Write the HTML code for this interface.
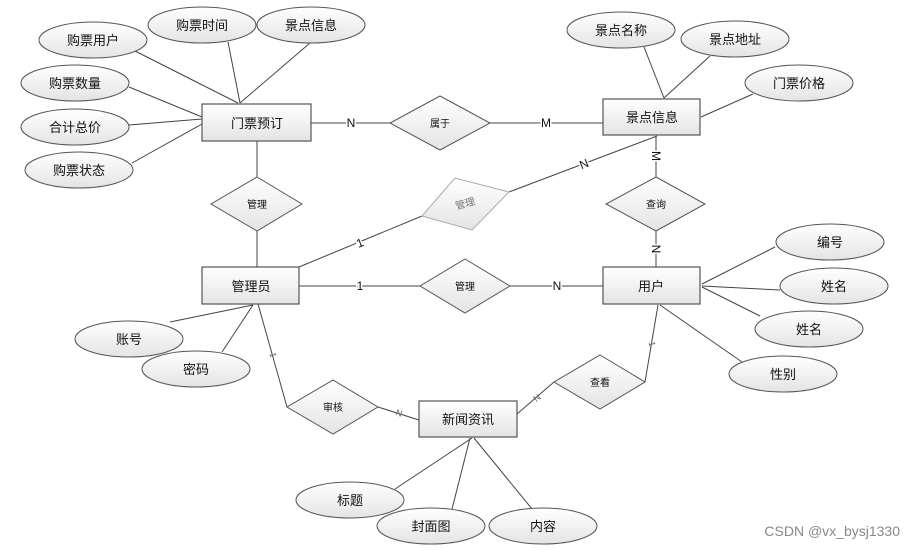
<!DOCTYPE html>
<html><head><meta charset="utf-8"><style>
html,body{margin:0;padding:0;background:#fff;width:916px;height:550px;overflow:hidden}
text{font-family:"Liberation Sans","Noto Sans CJK SC",sans-serif;}
</style></head><body>
<svg width="916" height="550" viewBox="0 0 916 550" xmlns="http://www.w3.org/2000/svg">
<defs>
<linearGradient id="g" x1="0" y1="0" x2="0" y2="1"><stop offset="0" stop-color="#ffffff"/><stop offset="1" stop-color="#e4e4e4"/></linearGradient>
</defs>
<g stroke="#444" stroke-width="1" fill="none">
<!-- attribute lines -->
<line x1="135" y1="51" x2="238" y2="103"/>
<line x1="228" y1="42" x2="240" y2="103"/>
<line x1="310" y1="43" x2="240" y2="103"/>
<line x1="129" y1="87" x2="202" y2="117"/>
<line x1="129" y1="125" x2="202" y2="119"/>
<line x1="132" y1="163" x2="202" y2="124"/>
<line x1="644" y1="47" x2="664" y2="98"/>
<line x1="710" y1="56" x2="664" y2="98"/>
<line x1="753" y1="94" x2="701" y2="117"/>
<line x1="775" y1="247" x2="702" y2="284"/>
<line x1="702" y1="286" x2="780" y2="290"/>
<line x1="702" y1="287" x2="760" y2="316"/>
<line x1="660" y1="305" x2="742" y2="362"/>
<line x1="253" y1="305" x2="170" y2="322"/>
<line x1="253" y1="305" x2="222" y2="352"/>
<line x1="472" y1="438" x2="395" y2="489"/>
<line x1="470" y1="438" x2="452" y2="509"/>
<line x1="474" y1="438" x2="532" y2="509"/>
<!-- relationship lines -->
<line x1="311" y1="123" x2="390" y2="123"/>
<line x1="490" y1="123" x2="603" y2="123"/>
<line x1="257" y1="141" x2="257" y2="177"/>
<line x1="257" y1="231" x2="257" y2="267"/>
<line x1="299" y1="267" x2="422" y2="216"/>
<line x1="509" y1="192" x2="657" y2="136"/>
<line x1="656" y1="136" x2="656" y2="177"/>
<line x1="656" y1="231" x2="656" y2="267"/>
<line x1="299" y1="286" x2="420" y2="286"/>
<line x1="510" y1="286" x2="603" y2="286"/>
<line x1="258" y1="304" x2="287" y2="407"/>
<line x1="378" y1="407" x2="419" y2="420"/>
<line x1="517" y1="414" x2="554" y2="382"/>
<line x1="645" y1="382" x2="658" y2="305"/>
</g>
<!-- ellipses -->
<g stroke="#555" stroke-width="1" fill="url(#g)">
<ellipse cx="93" cy="40" rx="54" ry="18"/>
<ellipse cx="202" cy="25" rx="54" ry="18"/>
<ellipse cx="311" cy="25" rx="54" ry="18"/>
<ellipse cx="75" cy="83" rx="54" ry="18"/>
<ellipse cx="75" cy="127" rx="54" ry="18"/>
<ellipse cx="79" cy="170" rx="54" ry="18"/>
<ellipse cx="621" cy="30" rx="54" ry="18"/>
<ellipse cx="735" cy="39" rx="54" ry="18"/>
<ellipse cx="799" cy="83" rx="54" ry="18"/>
<ellipse cx="830" cy="242" rx="54" ry="18"/>
<ellipse cx="834" cy="286" rx="54" ry="18"/>
<ellipse cx="809" cy="329" rx="54" ry="18"/>
<ellipse cx="783" cy="374" rx="54" ry="18"/>
<ellipse cx="129" cy="339" rx="54" ry="18"/>
<ellipse cx="196" cy="369" rx="54" ry="18"/>
<ellipse cx="350" cy="500" rx="54" ry="18"/>
<ellipse cx="431" cy="526" rx="54" ry="18"/>
<ellipse cx="543" cy="526" rx="54" ry="18"/>
</g>
<!-- rects -->
<g stroke="#555" stroke-width="1.2" fill="url(#g)">
<rect x="202" y="104" width="109" height="37"/>
<rect x="603" y="99" width="97" height="36"/>
<rect x="202" y="267" width="97" height="37"/>
<rect x="603" y="267" width="97" height="37"/>
<rect x="419" y="401" width="98" height="36"/>
</g>
<!-- diamonds -->
<g stroke="#555" stroke-width="1" fill="url(#g)">
<polygon points="440,96 490,123 440,150 390,123"/>
<polygon points="257,177 302,204 257,231 211,204"/>
<polygon points="656,177 705,204 656,231 606,204"/>
<polygon points="465,259 510,286 465,313 420,286"/>
<polygon points="333,380 378,407 333,434 287,407"/>
<polygon points="600,355 645,382 600,409 554,382"/>
</g>
<polygon points="422,216 455,178 509,192 472,230" stroke="#aaa" stroke-width="1" fill="url(#g)"/>
<!-- text -->
<g font-size="13" fill="#111" text-anchor="middle">
<text x="93" y="45">购票用户</text>
<text x="202" y="30">购票时间</text>
<text x="311" y="30">景点信息</text>
<text x="75" y="88">购票数量</text>
<text x="75" y="132">合计总价</text>
<text x="79" y="175">购票状态</text>
<text x="621" y="35">景点名称</text>
<text x="735" y="44">景点地址</text>
<text x="799" y="88">门票价格</text>
<text x="830" y="247">编号</text>
<text x="834" y="291">姓名</text>
<text x="809" y="334">姓名</text>
<text x="783" y="379">性别</text>
<text x="129" y="344">账号</text>
<text x="196" y="374">密码</text>
<text x="350" y="505">标题</text>
<text x="431" y="531">封面图</text>
<text x="543" y="531">内容</text>
<text x="257" y="128">门票预订</text>
<text x="652" y="122">景点信息</text>
<text x="251" y="291">管理员</text>
<text x="651" y="291">用户</text>
<text x="468" y="424">新闻资讯</text>
</g>
<g font-size="10" fill="#111" text-anchor="middle">
<text x="440" y="127">属于</text>
<text x="257" y="208">管理</text>
<text x="656" y="208">查询</text>
<text x="465" y="290">管理</text>
<text x="333" y="411">审核</text>
<text x="600" y="386">查看</text>
<text x="465" y="207" fill="#777" transform="rotate(-15 465 203)">管理</text>
</g>
<g font-size="12" fill="#111" text-anchor="middle">
<text x="351" y="127" style="paint-order:stroke" stroke="#fff" stroke-width="3">N</text>
<text x="546" y="127" style="paint-order:stroke" stroke="#fff" stroke-width="3">M</text>
<text x="360" y="290" style="paint-order:stroke" stroke="#fff" stroke-width="3">1</text>
<text x="557" y="290" style="paint-order:stroke" stroke="#fff" stroke-width="3">N</text>
<text x="360" y="247" transform="rotate(-22 360 243)" style="paint-order:stroke" stroke="#fff" stroke-width="3">1</text>
<text x="584" y="168" transform="rotate(-22 584 164)" style="paint-order:stroke" stroke="#fff" stroke-width="3">N</text>
<text x="656" y="160" transform="rotate(90 656 156)" style="paint-order:stroke" stroke="#fff" stroke-width="3">M</text>
<text x="656" y="253" transform="rotate(90 656 249)" style="paint-order:stroke" stroke="#fff" stroke-width="3">N</text>
</g>
<g font-size="9" fill="#666" text-anchor="middle">
<text x="273" y="358" transform="rotate(75 273 355)">1</text>
<text x="399" y="416" transform="rotate(18 399 413)">N</text>
<text x="537" y="401" transform="rotate(-40 537 398)">N</text>
<text x="652" y="347" transform="rotate(80 652 344)">1</text>
</g>
<text x="900" y="536" font-size="14" fill="#888" text-anchor="end">CSDN @vx_bysj1330</text>
</svg>
</body></html>
